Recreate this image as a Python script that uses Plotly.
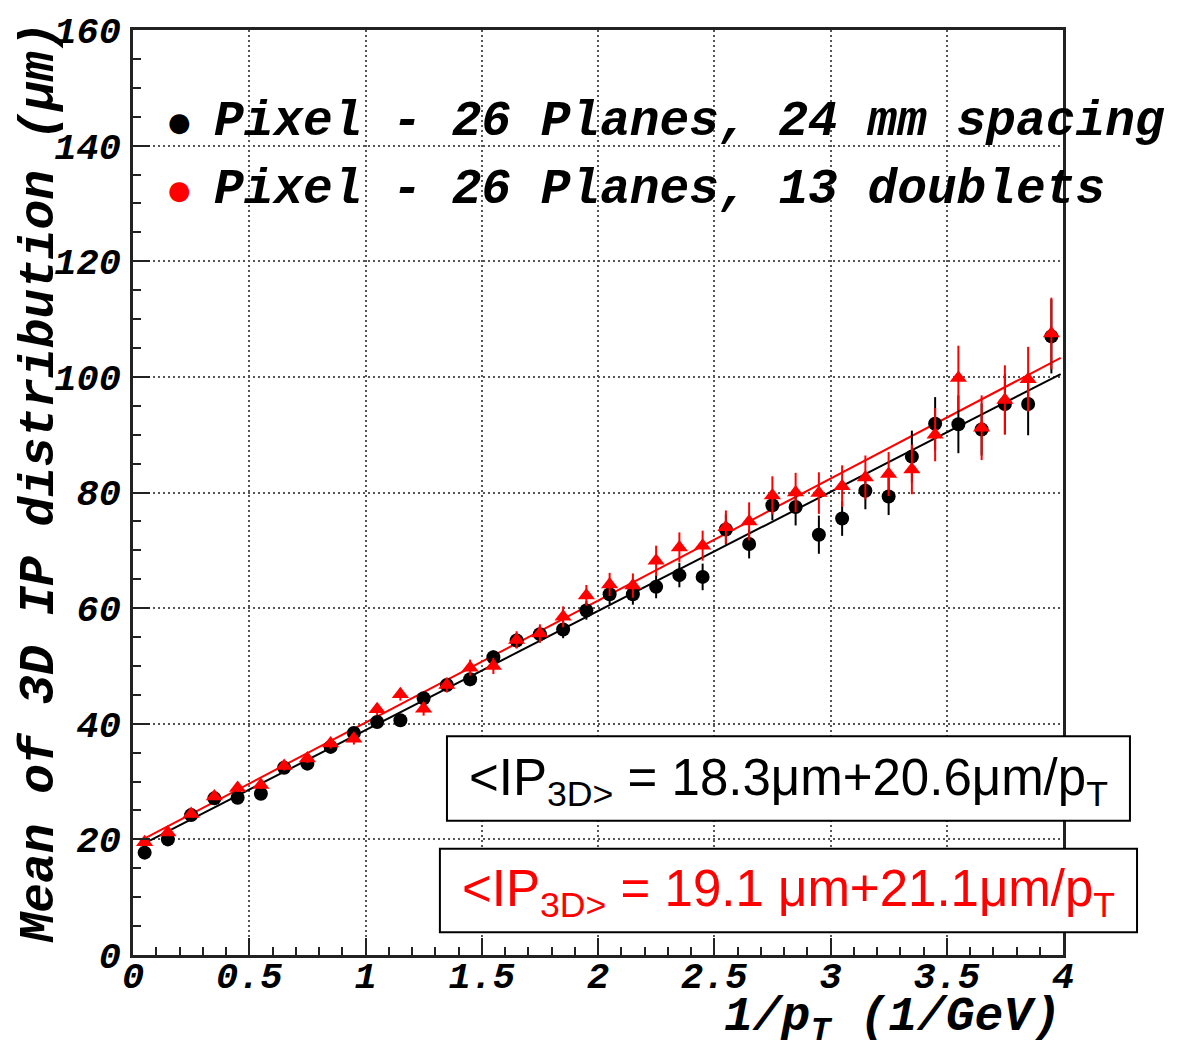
import plotly.graph_objects as go

# ---------------- data ----------------
x_bins = [0.05, 0.15, 0.25, 0.35, 0.45, 0.55, 0.65, 0.75, 0.85, 0.95,
          1.05, 1.15, 1.25, 1.35, 1.45, 1.55, 1.65, 1.75, 1.85, 1.95,
          2.05, 2.15, 2.25, 2.35, 2.45, 2.55, 2.65, 2.75, 2.85, 2.95,
          3.05, 3.15, 3.25, 3.35, 3.45, 3.55, 3.65, 3.75, 3.85, 3.95]

black_mean = [17.7, 20.0, 24.2, 27.1, 27.2, 27.9, 32.4, 33.1, 36.0, 38.4,
              40.3, 40.6, 44.4, 46.7, 47.7, 51.5, 54.4, 55.5, 56.3, 59.6,
              62.4, 62.4, 63.7, 65.7, 65.4, 73.6, 71.1, 77.8, 77.5, 72.7,
              75.5, 80.3, 79.3, 86.2, 91.9, 91.8, 90.9, 95.3, 95.3, 107.0]
black_err = [0.5, 0.5, 0.5, 0.6, 0.6, 0.6, 0.7, 0.7, 0.8, 0.8,
             0.9, 1.0, 1.0, 1.1, 1.2, 1.2, 1.3, 1.4, 1.5, 1.6,
             1.7, 1.8, 2.0, 2.1, 2.3, 2.6, 2.5, 2.6, 3.2, 3.3,
             3.0, 3.2, 3.2, 4.5, 4.6, 5.0, 4.5, 5.2, 5.4, 6.4]

red_mean = [19.5, 21.2, 24.4, 27.4, 28.9, 29.4, 32.7, 34.0, 36.6, 37.4,
            42.5, 45.1, 42.6, 46.7, 49.7, 50.0, 54.5, 55.6, 58.5, 62.2,
            64.1, 63.9, 68.2, 70.5, 70.8, 74.0, 75.0, 79.5, 80.0, 79.9,
            81.1, 82.6, 83.2, 84.0, 90.0, 99.8, 91.2, 96.0, 99.6, 107.5]
red_err = [0.5, 0.5, 0.6, 0.6, 0.7, 0.7, 0.8, 0.8, 0.9, 1.0,
           1.0, 1.1, 1.2, 1.3, 1.4, 1.4, 1.5, 1.6, 1.8, 1.8,
           2.0, 2.1, 2.6, 2.6, 2.6, 2.9, 3.3, 3.3, 3.4, 3.6,
           3.6, 3.8, 3.8, 4.3, 4.6, 5.6, 5.6, 6.0, 5.6, 6.2]

# linear fits: intercept (um), slope (um*GeV)
black_fit = [18.3, 20.6]
red_fit = [19.1, 21.1]
fit_range = [0.03, 3.99]

legend_labels = ["Pixel - 26 Planes, 24 mm spacing",
                 "Pixel - 26 Planes, 13 doublets"]
eq_labels = ["&lt;IP<sub>3D&gt;</sub> = 18.3\u03bcm+20.6\u03bcm/p<sub>T</sub>",
             "&lt;IP<sub>3D&gt;</sub> = 19.1 \u03bcm+21.1\u03bcm/p<sub>T</sub>"]

# ---------------- figure ----------------
MONO = "Liberation Mono"
fig = go.Figure()

fig.add_trace(go.Scatter(
    x=fit_range, y=[black_fit[0] + black_fit[1] * v for v in fit_range],
    mode="lines", line=dict(color="black", width=2), showlegend=False))
fig.add_trace(go.Scatter(
    x=fit_range, y=[red_fit[0] + red_fit[1] * v for v in fit_range],
    mode="lines", line=dict(color="red", width=2), showlegend=False))

fig.add_trace(go.Scatter(
    x=x_bins, y=black_mean, mode="markers",
    marker=dict(symbol="circle", size=14, color="black"),
    error_y=dict(type="data", array=black_err, color="black", thickness=2, width=0),
    showlegend=False))
fig.add_trace(go.Scatter(
    x=x_bins, y=red_mean, mode="markers",
    marker=dict(symbol="triangle-up", size=15, color="red"),
    error_y=dict(type="data", array=red_err, color="red", thickness=2, width=0),
    showlegend=False))

tickfont = dict(family=MONO, size=37, color="black", weight="bold", style="italic")
axis_common = dict(
    showline=True, linecolor="#222", linewidth=2.5, mirror=True,
    ticks="inside", ticklen=17, tickwidth=1.5, tickcolor="#222",
    showgrid=True, gridcolor="#555", gridwidth=1.5, griddash="2px,3px",
    zeroline=False, tickfont=tickfont,
)
fig.update_xaxes(range=[0, 4], dtick=0.5, tick0=0,
                 minor=dict(dtick=0.1, ticklen=8, ticks="inside", tickcolor="#222", showgrid=False),
                 ticklabelstandoff=-14, **axis_common)
fig.update_yaxes(range=[0, 160], dtick=20, tick0=0,
                 minor=dict(dtick=5, ticklen=8, ticks="inside", tickcolor="#222", showgrid=False),
                 ticklabelstandoff=2, **axis_common)

big = dict(family=MONO, size=49.5, color="black", weight="bold", style="italic")
anns = []
# legend
leg_y = [0.901, 0.827]
leg_col = ["black", "red"]
for lbl, yy, cc in zip(legend_labels, leg_y, leg_col):
    anns.append(dict(xref="paper", yref="paper", x=0.0505, y=yy, text="\u25cf",
                     showarrow=False, xanchor="center", yanchor="middle",
                     font=dict(family="DejaVu Sans", size=26, color=cc)))
    anns.append(dict(xref="paper", yref="paper", x=0.085, y=yy, text=lbl,
                     showarrow=False, xanchor="left", yanchor="middle", font=big))
# axis titles
anns.append(dict(xref="paper", yref="paper", x=1.0, y=-0.07,
                 text="1/p<sub>T</sub> (1/GeV)", showarrow=False,
                 xanchor="right", yanchor="middle",
                 font=dict(family=MONO, size=48, color="black", weight="bold", style="italic")))
anns.append(dict(xref="paper", yref="paper", x=-0.1, y=1.0115,
                 text="Mean of 3D IP distribution (\u03bcm)", showarrow=False,
                 textangle=-90, xanchor="center", yanchor="top", font=big))
# equation text
eq_pos = [(0.7048, 0.188), (0.7048, 0.0677)]
eq_col = ["black", "red"]
for lbl, (xx, yy), cc in zip(eq_labels, eq_pos, eq_col):
    anns.append(dict(xref="paper", yref="paper", x=xx, y=yy, text=lbl,
                     showarrow=False, xanchor="center", yanchor="middle",
                     font=dict(family="Liberation Sans", size=51, color=cc)))

shapes = [
    dict(type="rect", xref="paper", yref="paper", x0=0.3376, x1=1.072, y0=0.1452, y1=0.2366,
         line=dict(color="black", width=2), fillcolor="white", layer="above"),
    dict(type="rect", xref="paper", yref="paper", x0=0.330, x1=1.0796, y0=0.0247, y1=0.115,
         line=dict(color="black", width=2), fillcolor="white", layer="above"),
]

fig.update_layout(
    width=1177, height=1046,
    margin=dict(l=133, r=114, t=25, b=91),
    paper_bgcolor="white", plot_bgcolor="white",
    annotations=anns, shapes=shapes, showlegend=False,
)

fig.write_html("out.html")
